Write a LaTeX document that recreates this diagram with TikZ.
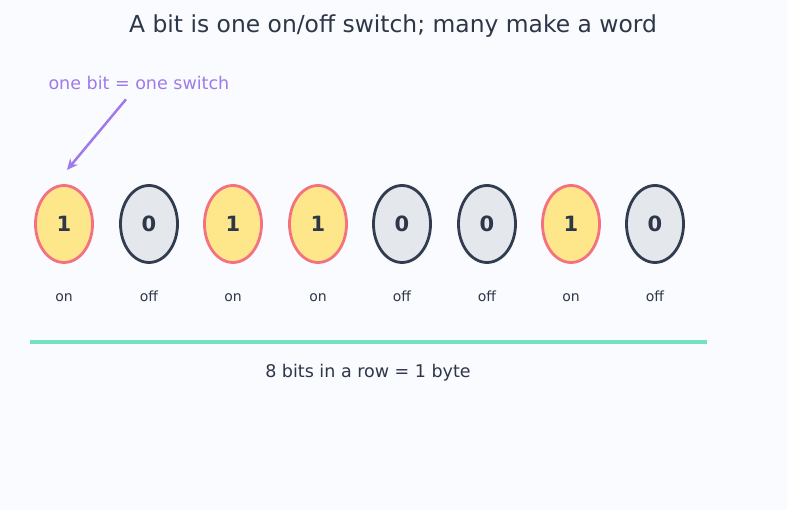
\documentclass[tikz,border=0pt]{standalone}
\usepackage{fontspec}
\setmainfont{DejaVu Sans}
\usepackage{xcolor}
\usetikzlibrary{arrows.meta,positioning,shapes.geometric}

\definecolor{pagebg}{RGB}{250,251,254}
\definecolor{ink}{RGB}{45,55,72}
\definecolor{lavender}{RGB}{159,122,234}
\definecolor{onfill}{RGB}{254,230,138}
\definecolor{online}{RGB}{244,114,128}
\definecolor{offfill}{RGB}{228,231,236}
\definecolor{offline}{RGB}{50,60,80}
\definecolor{mint}{RGB}{116,224,192}

\begin{document}
\begin{tikzpicture}[
    x=1pt,
    y=-1pt,
    switch/.style={
        ellipse,
        line width=2.8pt,
        minimum width=57pt,
        minimum height=77pt,
        inner sep=0pt,
        text=ink,
        font=\fontsize{21}{25}\selectfont\bfseries
    },
    swon/.style={switch, draw=online, fill=onfill},
    swoff/.style={switch, draw=offline, fill=offfill},
    state/.style={text=ink, anchor=base, font=\fontsize{14}{17}\selectfont},
    note/.style={text=lavender, font=\fontsize{17.5}{21}\selectfont},
    pointer/.style={-{Stealth[length=11pt,width=10pt]}, line width=2.5pt, draw=lavender}
]

\fill[pagebg] (0,0) rectangle (787,510);
\useasboundingbox (0,0) rectangle (787,510);

\node[text=ink, font=\fontsize{23.4}{28}\selectfont] (title) at (393,26) {A bit is one on/off switch; many make a word};

\node[note, anchor=west] (hint) at (45,83) {one bit = one switch};
\coordinate (tip) at (67,170);
\draw[pointer] (hint.south west) ++(81,6) -- (tip);

\foreach \x/\b/\s [count=\i] in {64/1/on, 149/0/off, 233/1/on, 318/1/on,
                                 402/0/off, 487/0/off, 571/1/on, 655/0/off}
{
    \node[sw\s] (bit\i) at (\x,224) {\b};
    \node[state] (lbl\i) at (\x,302) {\s};
}

\coordinate (rowL) at (30,342);
\coordinate (rowR) at (707,342);
\draw[mint, line width=3.5pt] (rowL) -- (rowR);

\node[text=ink, font=\fontsize{17.5}{21}\selectfont] (byte) at (368,373) {8 bits in a row = 1 byte};

\end{tikzpicture}
\end{document}
